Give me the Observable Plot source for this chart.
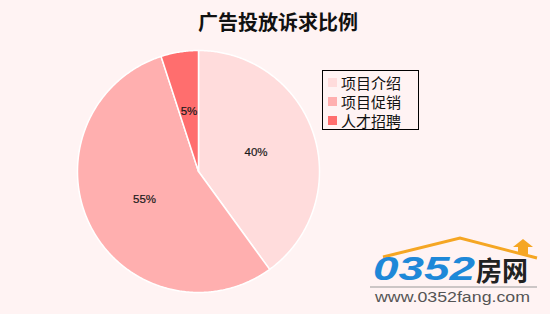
<!DOCTYPE html>
<html><head><meta charset="utf-8">
<script src="https://cdn.jsdelivr.net/npm/d3@7"></script>
<script src="https://cdn.jsdelivr.net/npm/@observablehq/plot@0.6"></script>
<style>
html,body{margin:0;padding:0;background:#FFF3F3;}
#wrap{position:relative;width:550px;height:314px;background:#FFF3F3;font-family:"Noto Sans CJK SC","Noto Sans",sans-serif;overflow:hidden;}
#title{position:absolute;left:0;width:556px;top:7px;text-align:center;font-size:20px;font-weight:700;color:#111;}
#legend{position:absolute;left:322px;top:70px;width:97px;height:60px;border:1px solid #000;background:#FFF3F3;box-sizing:border-box;padding:2px 0 0 5px;}
.item{height:19px;line-height:19px;font-size:15px;color:#111;white-space:nowrap;display:flex;align-items:center;}
.sw{display:inline-block;width:9px;height:9px;margin-right:4px;flex:none;}
#wm{position:absolute;left:362px;top:230px;width:190px;height:84px;}
</style></head><body>
<div id="wrap"></div>
<script>
const title = "广告投放诉求比例";
const categories = ["项目介绍", "项目促销", "人才招聘"];
const values = [40, 55, 5];
const labels = ["40%", "55%", "5%"];
const colors = ["#FFDCDC", "#FFAFAF", "#FF6E6E"];

const rows = categories.map((c, i) => ({category: c, value: values[i], label: labels[i]}));
const arcs = d3.pie().sort(null).value(d => d.value)(rows);

// slice outlines in unit-circle coordinates derived from the pie angles
const outline = [];
for (const a of arcs) {
  const c = a.data.category;
  outline.push({category: c, x: 0, y: 0});
  const n = Math.max(2, Math.ceil((a.endAngle - a.startAngle) / 0.01));
  for (let k = 0; k <= n; k++) {
    const t = a.startAngle + (a.endAngle - a.startAngle) * k / n;
    outline.push({category: c, x: Math.sin(t), y: -Math.cos(t)});
  }
  outline.push({category: c, x: 0, y: 0});
}
const labelPts = arcs.map(a => {
  const m = (a.startAngle + a.endAngle) / 2;
  return {label: a.data.label, x: 0.5 * Math.sin(m), y: -0.5 * Math.cos(m)};
});

const chart = Plot.plot({
  width: 550, height: 314,
  margin: 0,
  style: {background: "#FFF3F3", overflow: "visible"},
  x: {domain: [-1, 1], range: [77, 319], axis: null},
  y: {domain: [-1, 1], range: [50, 292], axis: null},
  color: {domain: categories, range: colors},
  marks: [
    Plot.line(outline, {x: "x", y: "y", z: "category", fill: "category", stroke: "white", strokeWidth: 1.5, strokeLinejoin: "round"}),
    Plot.text(labelPts, {x: "x", y: "y", text: "label", fontSize: 11.5, fill: "#1a1a1a", fontFamily: "Liberation Sans, sans-serif", stroke: "#1a1a1a", strokeWidth: 0.2})
  ]
});

const wrap = document.getElementById("wrap");
wrap.appendChild(chart);

const t = document.createElement("div");
t.id = "title"; t.textContent = title;
wrap.appendChild(t);

const lg = document.createElement("div");
lg.id = "legend";
categories.forEach((c, i) => {
  const it = document.createElement("div");
  it.className = "item";
  const sw = document.createElement("span");
  sw.className = "sw"; sw.style.background = colors[i];
  it.appendChild(sw);
  it.appendChild(document.createTextNode(c));
  lg.appendChild(it);
});
wrap.appendChild(lg);

const wm = document.createElement("div");
wm.id = "wm";
wm.innerHTML = `<svg width="190" height="84" xmlns="http://www.w3.org/2000/svg">
  <path d="M21 27 L98 8 L175 28" fill="none" stroke="#F5A623" stroke-width="3"/>
  <path d="M151 17 L161 9 L171 17 L166 17 L166 24 L156 24 L156 17 Z" fill="#F5A623"/>
  <text x="11" y="50" textLength="102" lengthAdjust="spacingAndGlyphs" font-family="Liberation Sans, sans-serif" font-size="33" font-weight="700" font-style="italic" fill="#1E88D8">0352</text>
  <text x="114" y="51" textLength="52" lengthAdjust="spacingAndGlyphs" font-family="Noto Sans CJK SC, sans-serif" font-size="27" font-weight="700" fill="#222">房网</text>
  <line x1="8" y1="57" x2="175" y2="57" stroke="#999" stroke-width="1"/>
  <text x="13" y="72" textLength="155" lengthAdjust="spacingAndGlyphs" font-family="Liberation Sans, sans-serif" font-size="14" fill="#555">www.0352fang.com</text>
</svg>`;
wrap.appendChild(wm);
</script>
</body></html>
